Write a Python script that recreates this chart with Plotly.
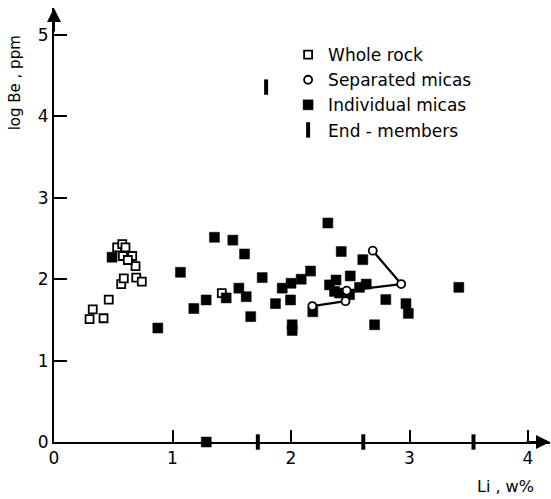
import plotly.graph_objects as go

# Whole rock (open squares)
wr_x = [0.30, 0.327, 0.418, 0.462, 0.567, 0.589, 0.694, 0.741, 0.688, 0.660,
        0.581, 0.623, 0.533, 0.576, 0.603, 1.416]
wr_y = [1.51, 1.63, 1.52, 1.75, 1.94, 2.01, 2.02, 1.97, 2.16, 2.285,
        2.285, 2.236, 2.39, 2.43, 2.39, 1.83]

# Individual micas (filled squares)
ind_x = [0.49, 0.876, 1.067, 1.18, 1.284, 1.354, 1.453, 1.509, 1.56, 1.608,
         1.622, 1.66, 1.757, 1.869, 1.926, 2.00, 2.086, 2.165, 1.996, 2.01,
         2.01, 2.311, 2.424, 2.606, 2.184, 2.325, 2.38, 2.367, 2.41, 2.50,
         2.494, 2.578, 2.635, 2.705, 2.80, 2.97, 2.99, 3.416, 1.285]
ind_y = [2.27, 1.40, 2.085, 1.64, 1.745, 2.515, 1.77, 2.48, 1.89, 2.31,
         1.785, 1.54, 2.02, 1.70, 1.89, 1.95, 2.00, 2.10, 1.745, 1.44,
         1.37, 2.69, 2.34, 2.24, 1.60, 1.93, 1.99, 1.85, 1.83, 2.04,
         1.81, 1.90, 1.94, 1.44, 1.75, 1.70, 1.58, 1.90, 0.0]

# Separated micas (open circles joined by tie lines; None separates groups)
sep_x = [2.18, 2.46, None, 2.47, 2.93, 2.69]
sep_y = [1.67, 1.73, None, 1.86, 1.94, 2.35]

# End-members (bars)
em_x = [1.79, 1.72, 2.61, 3.54]
em_y = [4.36, 0.0, 0.0, 0.0]

x_ticks = [0, 1, 2, 3, 4]
y_ticks = [0, 1, 2, 3, 4, 5]

FONT = "DejaVu Sans"

fig = go.Figure()

fig.add_trace(go.Scatter(
    x=wr_x, y=wr_y, mode="markers", name="Whole rock", legendrank=1,
    marker=dict(symbol="square", size=8, color="white",
                line=dict(color="black", width=1.8)),
    cliponaxis=False))

fig.add_trace(go.Scatter(
    x=ind_x, y=ind_y, mode="markers", name="Individual micas", legendrank=3,
    marker=dict(symbol="square", size=10, color="black",
                line=dict(color="black", width=0.5)),
    cliponaxis=False))

fig.add_trace(go.Scatter(
    x=sep_x, y=sep_y, mode="lines", showlegend=False,
    line=dict(color="black", width=2.2), connectgaps=False))

fig.add_trace(go.Scatter(
    x=sep_x, y=sep_y, mode="markers", name="Separated micas", legendrank=2,
    marker=dict(symbol="circle", size=8, color="white",
                line=dict(color="black", width=1.8))))

fig.add_trace(go.Scatter(
    x=em_x, y=em_y, mode="markers", name="End - members", legendrank=4,
    marker=dict(symbol="line-ns", size=11, color="black",
                line=dict(color="black", width=4)),
    cliponaxis=False))

fig.update_layout(
    template="none",
    width=551, height=499,
    margin=dict(l=54, r=1, t=8, b=57, autoexpand=False),
    paper_bgcolor="white", plot_bgcolor="white",
    font=dict(family=FONT, size=17, color="black"),
    showlegend=True,
    legend=dict(x=0.472, y=0.933, xanchor="left", yanchor="top",
                bgcolor="rgba(0,0,0,0)", font=dict(family=FONT, size=17),
                tracegroupgap=0, itemsizing="trace"),
    xaxis=dict(range=[0, 496 / 118.5], tickvals=x_ticks,
               ticktext=[str(v) for v in x_ticks], automargin=False,
               ticks="inside", ticklen=12, tickwidth=1.5, tickcolor="black",
               showline=True, linewidth=2, linecolor="black",
               showgrid=False, zeroline=False, fixedrange=True),
    yaxis=dict(range=[0, 434 / 81.4], tickvals=y_ticks,
               ticktext=[str(v) for v in y_ticks], automargin=False,
               ticks="inside", ticklen=13, tickwidth=1.5, tickcolor="black",
               showline=True, linewidth=2, linecolor="black",
               showgrid=False, zeroline=False, fixedrange=True),
    annotations=[
        dict(x=0, y=434 / 81.4, xref="x", yref="y", text="", showarrow=True,
             ax=0, ay=25, axref="pixel", ayref="pixel",
             arrowhead=2, arrowsize=1.4, arrowwidth=2, arrowcolor="black"),
        dict(x=496 / 118.5, y=0, xref="x", yref="y", text="", showarrow=True,
             ax=-25, ay=0, axref="pixel", ayref="pixel",
             arrowhead=2, arrowsize=1.4, arrowwidth=2, arrowcolor="black"),
        dict(x=-0.078, y=4.41, xref="paper", yref="y", text="log Be , ppm",
             textangle=-90, showarrow=False, font=dict(family=FONT, size=15),
             xanchor="center", yanchor="middle"),
        dict(x=0.91, y=-0.103, xref="paper", yref="paper", text="Li , w%",
             showarrow=False, font=dict(family=FONT, size=16),
             xanchor="center", yanchor="middle"),
    ],
)

fig.write_html(
    "out.html",
    config={"displayModeBar": False},
    post_script="document.body.style.margin='0px';document.body.style.overflow='hidden';",
)
